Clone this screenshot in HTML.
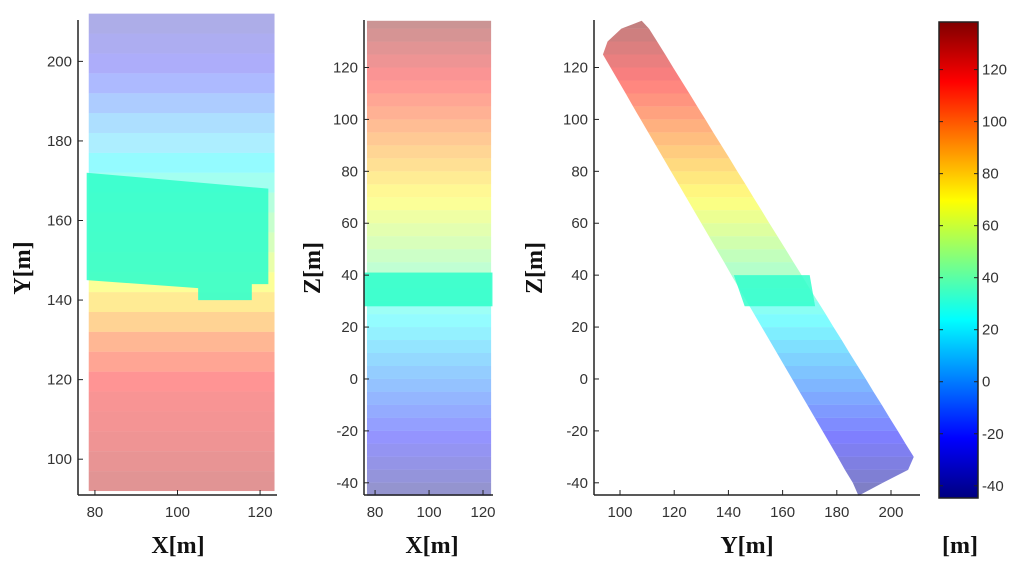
<!DOCTYPE html>
<html><head><meta charset="utf-8"><style>
html,body{margin:0;padding:0;background:#fff;}
svg{display:block;}
.tk{font-family:"Liberation Sans",sans-serif;font-size:15px;fill:#333;}
.lb{font-family:"Liberation Serif",serif;font-size:24px;font-weight:bold;fill:#111;}
</style></head><body>
<svg id="fig" width="1024" height="566" viewBox="0 0 1024 566" xmlns="http://www.w3.org/2000/svg"></svg>
<script>
// ---- data ----
const cMin = -45, cMax = 138;
// panel 1 (X-Y view): rows along Y with Z elevation
const p1Rows = [92,97,102,107,112,117,122,127,132,137,142,147,152,157,162,167,172,177,182,187,192,197,202,207];
const p1Z    = [128,125,122,120,118,115,108,100,88,78,68,60,52,45,38,30,22,14,6,-5,-15,-25,-30,-35];
const p1Wall = [[78,172],[122,168],[122,144],[118,144],[118,140],[105,140],[105,143],[78,145]];
const p1WallZ = 33;
// panel 2 (X-Z view)
const p2Rows = [-45,-40,-35,-30,-25,-20,-15,-10,-5,0,5,10,15,20,25,30,35,40,45,50,55,60,65,70,75,80,85,90,95,100,105,110,115,120,125,130,135];
const p2XMin = 77, p2XMax = 123;
const p2Wall = [28,41];
// panel 3 (Y-Z view): strip edges
const p3Z     = [-45,-40,-35,-30,-25,-20,-15,-10,-5,0,5,10,15,20,25,30,35,40,45,50,55,60,65,70,75,80,85,90,95,100,105,110,115,120,125,130,135,138];
const p3Left  = [188,185.9,183,180.3,177.5,174.7,171.9,169.1,166.3,163.5,160.7,157.9,155.1,152.3,149.5,146.7,143.9,141.1,138.4,135.6,132.8,130,127.2,124.4,121.6,118.8,116,113.2,110.4,107.6,104.8,102.1,99.3,96.5,93.7,95.4,100.5,108];
const p3Right = [188,197,206.3,208.4,205.4,202.5,199.5,196.6,193.6,190.7,187.7,184.7,181.8,178.8,175.9,172.9,169.9,167,164,161.1,158.1,155.1,152.2,149.2,146.3,143.3,140.4,137.4,134.4,131.5,128.5,125.6,122.6,119.6,116.7,113.7,110.7,108];
const p3Wall = [[142,40],[170,40],[172,28],[146,28]];
const xTicks12 = [80,100,120];
const yTicks1 = [100,120,140,160,180,200];
const zTicks = [-40,-20,0,20,40,60,80,100,120];
const yTicks3 = [100,120,140,160,180,200];

// ---- helpers ----
const NS="http://www.w3.org/2000/svg", svg=document.getElementById('fig');
function mk(tag,attrs,parent){const e=document.createElementNS(NS,tag);for(const k in attrs)e.setAttribute(k,attrs[k]);(parent||svg).appendChild(e);return e;}
function jet(v){let t=(v-cMin)/(cMax-cMin);t=Math.max(0,Math.min(1,t));
 const f=(x)=>Math.max(0,Math.min(1,1.5-Math.abs(4*t-x)));
 const r=f(3),g=f(2),b=f(1);return `rgb(${Math.round(r*255)},${Math.round(g*255)},${Math.round(b*255)})`;}
function lin(d0,d1,r0,r1){return v=>r0+(v-d0)*(r1-r0)/(d1-d0);}
function axes(g,sx,sy,L,R,T,B,xt,yt){
 mk('line',{x1:L,y1:T,x2:L,y2:B,stroke:'#222','stroke-width':1.5},g);
 mk('line',{x1:L,y1:B,x2:R,y2:B,stroke:'#222','stroke-width':1.5},g);
 xt.forEach(v=>{const x=sx(v);mk('line',{x1:x,y1:B,x2:x,y2:B-5,stroke:'#222'},g);
  const t=mk('text',{x:x,y:B+22,'text-anchor':'middle',class:'tk'},g);t.textContent=v;
  });
 yt.forEach(v=>{const y=sy(v);mk('line',{x1:L,y1:y,x2:L+5,y2:y,stroke:'#222'},g);
  const t=mk('text',{x:L-6,y:y+5,'text-anchor':'end',class:'tk'},g);t.textContent=v;
  });
}
function label(txt,x,y,rot,name){const t=mk('text',{x:x,y:y,'text-anchor':'middle',class:'lb'});
 if(rot)t.setAttribute('transform',`rotate(-90 ${x} ${y})`);t.textContent=txt;
 }

// ---- panel 1 ----
{const g=mk('g',{});
 const L=78,R=277,T=20,B=495;const sx=lin(75.9,124.1,L,R), sy=lin(91,210.4,B,T);
 p1Rows.forEach((y,i)=>{const r=mk('rect',{x:sx(78.5),y:sy(y+5),width:sx(123.5)-sx(78.5),height:sy(y)-sy(y+5),fill:jet(p1Z[i]),'fill-opacity':y>175?0.32:0.42},g);
  });
 const w=mk('polygon',{points:p1Wall.map(p=>sx(p[0])+','+sy(p[1])).join(' '),fill:jet(p1WallZ),'fill-opacity':0.9},g);
 
 axes(g,sx,sy,L,R,T,B,xTicks12,yTicks1);}
// ---- panel 2 ----
{const g=mk('g',{});
 const L=364,R=493,T=20,B=495;const sx=lin(75.9,123.7,L,R), sy=lin(-44.7,138.3,B,T);
 p2Rows.forEach(z=>{const r=mk('rect',{x:sx(p2XMin),y:sy(Math.min(z+5,138)),width:sx(p2XMax)-sx(p2XMin),height:sy(z)-sy(Math.min(z+5,138)),fill:jet(z+2.5),'fill-opacity':0.42},g);
  });
 const w=mk('rect',{x:sx(76),y:sy(p2Wall[1]),width:sx(123.5)-sx(76),height:sy(p2Wall[0])-sy(p2Wall[1]),fill:jet(33),'fill-opacity':0.9},g);
 
 axes(g,sx,sy,L,R,T,B,xTicks12,zTicks);}
// ---- panel 3 ----
{const g=mk('g',{});
 const L=594,R=920,T=20,B=495;const sx=lin(90.4,210.7,L,R), sy=lin(-44.7,138.3,B,T);
 for(let i=0;i<p3Z.length-1;i++){const pts=[[p3Left[i],p3Z[i]],[p3Right[i],p3Z[i]],[p3Right[i+1],p3Z[i+1]],[p3Left[i+1],p3Z[i+1]]];
  const p=mk('polygon',{points:pts.map(q=>sx(q[0])+','+sy(q[1])).join(' '),fill:jet((p3Z[i]+p3Z[i+1])/2),'fill-opacity':0.5},g);
  }
 const w=mk('polygon',{points:p3Wall.map(q=>sx(q[0])+','+sy(q[1])).join(' '),fill:jet(33),'fill-opacity':0.85},g);
 
 axes(g,sx,sy,L,R,T,B,yTicks3,zTicks);}
// ---- colorbar ----
{const g=mk('g',{});
 const d=mk('defs',{},g);const lg=mk('linearGradient',{id:'jetg',x1:0,y1:1,x2:0,y2:0},d);
 for(let k=0;k<=16;k++){mk('stop',{offset:k/16,'stop-color':jet(cMin+(cMax-cMin)*k/16)},lg);}
 const L=939,R=978,T=22,B=498;const sy=lin(-44.7,138.3,B,T);
 mk('rect',{x:L,y:T,width:R-L,height:B-T,fill:'url(#jetg)',stroke:'#222','stroke-width':1.5},g);
 zTicks.forEach(v=>{const y=sy(v);mk('line',{x1:L,y1:y,x2:L+4,y2:y,stroke:'#222'},g);mk('line',{x1:R,y1:y,x2:R-4,y2:y,stroke:'#222'},g);
  const t=mk('text',{x:R+4,y:y+5,class:'tk'},g);t.textContent=v;
  });}
label('Y[m]',30,268,true,'panel1-y-axis-title');
label('X[m]',178,553,false,'panel1-x-axis-title');
label('Z[m]',320,268,true,'panel2-y-axis-title');
label('X[m]',432,553,false,'panel2-x-axis-title');
label('Z[m]',542,268,true,'panel3-y-axis-title');
label('Y[m]',747,553,false,'panel3-x-axis-title');
label('[m]',960,553,false,'colorbar-unit-label');
</script>
</body></html>
